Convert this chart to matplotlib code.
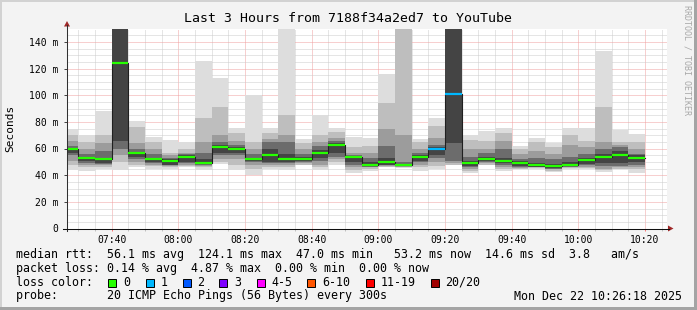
import numpy as np
import matplotlib.pyplot as plt
from matplotlib.patches import Rectangle, Polygon
from matplotlib.lines import Line2D

W, H = 697, 310
plt.rcParams['font.family'] = 'DejaVu Sans Mono'

# 5-minute slots (start time), 20 pings each
slot_start = ["07:25", "07:30", "07:35", "07:40", "07:45", "07:50", "07:55",
              "08:00", "08:05", "08:10", "08:15", "08:20", "08:25", "08:30",
              "08:35", "08:40", "08:45", "08:50", "08:55", "09:00", "09:05",
              "09:10", "09:15", "09:20", "09:25", "09:30", "09:35", "09:40",
              "09:45", "09:50", "09:55", "10:00", "10:05", "10:10", "10:15"]

# median rtt (ms) and lost pings per slot
median = [59.3, 53.2, 51.8, 124.1, 56.5, 51.8, 50.8, 53.8, 49.5, 60.8,
          59.8, 51.8, 55.5, 51.8, 52.5, 57.0, 62.6, 53.3, 48.0, 50.2,
          47.7, 54.0, 60.0, 101.0, 49.5, 52.3, 50.8, 49.5, 47.7, 47.0,
          48.0, 51.5, 53.3, 54.8, 53.2]
loss = [0, 0, 0, 0, 0, 0, 0, 0, 0, 0, 0, 0, 0, 0, 0, 0, 0, 0, 0, 0,
        0, 0, 1, 1, 0, 0, 0, 0, 0, 0, 0, 0, 0, 0, 0]

# smoke: lower / upper edge of each shade band (outermost first), ms
lo1 = [44, 43.5, 45, 44, 46.5, 45, 45, 46, 44, 48.5, 44, 40, 45, 44, 47.5, 44, 47.5, 42,
       43.5, 46, 45.5, 43.2, 45, 47.5, 41.5, 47.5, 43.5, 44.5, 45, 42.7, 45, 45, 42.7, 44.5, 41.5]
hi1 = [75, 70, 88.5, 200, 81, 69, 66.5, 65, 125.5, 113, 75.5, 100.5, 75.5, 200, 67, 85.5, 75.5, 69,
       68, 116, 200, 67.5, 83, 200, 70.5, 73, 75.5, 62, 68, 64, 75.5, 75.5, 133.5, 74, 71]
lo2 = [48, 46, 46.5, 50, 48, 47, 46, 47, 46, 50, 48, 45, 46.5, 46, 48, 46, 50, 44,
       45, 46.5, 46, 46, 47, 48, 43, 48, 45, 45, 45.5, 43.5, 45.5, 45.5, 44, 45, 45]
hi2 = [70, 65, 70, 200, 76.5, 65, 57, 60, 83, 91.5, 72, 65, 72, 85, 64, 70, 72.5, 61,
       62, 94, 200, 65, 77, 200, 66.5, 65.5, 71.5, 59.5, 65, 61, 70, 66, 91, 65, 65]
lo3 = [51, 48, 47.5, 55, 50, 48, 47, 48, 47, 52, 52, 48, 48, 47.5, 49, 48, 52, 46,
       46, 47, 46.5, 48, 50, 49, 44.5, 49, 46.5, 45.5, 46, 44.5, 46, 46.5, 45, 46, 46]
hi3 = [66, 60, 64, 200, 64, 60, 55, 57, 65, 70, 66, 60, 67, 70, 60, 65, 68, 57,
       57, 75, 70, 60, 68, 200, 60, 60, 66, 56, 58, 56, 63, 61, 65, 63, 60]
lo4 = [55, 49, 48.5, 60, 52, 49, 47.5, 49, 48, 55, 55, 50, 49, 49, 50, 51, 54, 48,
       46.5, 47.5, 47, 50, 53, 50.5, 46, 50, 48, 46, 46.2, 45, 46.5, 48, 47, 47, 48]
hi4 = [62, 56, 58, 200, 60, 56, 53, 56, 57, 65, 63, 56, 65, 65, 56, 62, 66, 55,
       53, 62, 50, 57, 63, 200, 54, 57, 60, 52, 53, 52, 54, 56, 60, 61, 56]
lo5 = [57, 51, 49, 66, 54, 50, 48, 50, 48.5, 57, 57, 50.5, 50, 50, 50.5, 53, 57, 50,
       47, 48, 47.5, 51, 55, 64, 47, 51, 49, 47, 46.5, 45.5, 47, 48.5, 49, 49, 50]
hi5 = [60.5, 54, 53, 200, 57.5, 53, 52, 55, 52, 63, 61, 53, 60, 56, 54, 59, 64, 54,
       50, 53, 48.5, 55.5, 61, 200, 51, 54, 53, 51, 49, 48.5, 50, 53, 56, 58, 55]

shades = ["#dddddd", "#bebebe", "#9c9c9c", "#6c6c6c", "#444444"]
loss_colors = {0: "#26ff00", 1: "#00b8ff"}

t = np.array([int(s[:2]) * 60 + int(s[3:]) - 420 for s in slot_start], dtype=float)

fig = plt.figure(figsize=(W / 100, H / 100), dpi=100, facecolor="#f3f3f3")
ax = fig.add_axes([67 / W, (H - 228.5) / H, 600 / W, 200 / H])
ax.set_facecolor("white")
ax.set_xlim(26.6, 206.6)
ax.set_ylim(0, 150)

for lo, hi, c in zip([lo1, lo2, lo3, lo4, lo5], [hi1, hi2, hi3, hi4, hi5], shades):
    lo = np.array(lo)
    hi = np.array(hi)
    ax.bar(t, hi - lo, bottom=lo, width=5, align="edge", color=c, linewidth=0, zorder=2)

# median line: dark step with loss-coloured segments
ax.step(np.append(t, t[-1] + 5), np.append(median, median[-1]), where="post",
        color="#202020", lw=0.8, zorder=3)
ax.hlines(median, t, t + 5, colors=[loss_colors[l] for l in loss], lw=1.6, zorder=4)

# grid
ax.set_xticks(np.arange(40, 206, 20))
ax.set_xticks(np.arange(30, 206, 5), minor=True)
ax.set_yticks(np.arange(0, 141, 20))
ax.set_yticks(np.arange(5, 150, 5), minor=True)
ax.set_xticklabels(["%02d:%02d" % ((420 + m) // 60, (420 + m) % 60) for m in np.arange(40, 206, 20)])
ax.set_yticklabels(["0"] + ["%d m" % v for v in range(20, 141, 20)])
ax.grid(which="minor", color="#cccccc", lw=0.72, ls=(0, (1, 1)))
ax.grid(which="major", color="#f0a0a0", lw=0.72, ls=(0, (1, 1)))
ax.set_axisbelow(True)
ax.tick_params(axis="x", which="major", length=1.5, width=0.7, color="#ff7070", pad=3.2, labelsize=7)
ax.tick_params(axis="x", which="minor", length=1.5, width=0.7, color="#c0c0c0")
ax.tick_params(axis="y", which="major", length=2.5, width=0.7, color="#404040", pad=3.8, labelsize=7)
ax.tick_params(axis="y", which="minor", length=0)
for s in ax.spines.values():
    s.set_visible(False)


def fx(px):
    return px / W


def fy(py):
    return 1 - py / H


# axes with arrows
fig.add_artist(Line2D([fx(67), fx(67)], [fy(231), fy(25)], color="#303030", lw=0.75))
fig.add_artist(Line2D([fx(63), fx(669)], [fy(228.5), fy(228.5)], color="#101010", lw=0.75))
fig.add_artist(Polygon([(fx(64), fy(26.5)), (fx(70), fy(26.5)), (fx(67), fy(21))],
                       closed=True, color="#a02828", lw=0))
fig.add_artist(Polygon([(fx(668), fy(225.5)), (fx(668), fy(231.5)), (fx(673.5), fy(228.5))],
                       closed=True, color="#a02828", lw=0))

# frame
fig.add_artist(Rectangle((0, fy(2)), 1, 2 / H, color="#d2d2d2", lw=0))
fig.add_artist(Rectangle((0, 0), 2 / W, 1, color="#d2d2d2", lw=0))
fig.add_artist(Rectangle((fx(694), 0), 3 / W, 1, color="#a4a4a4", lw=0))
fig.add_artist(Rectangle((0, 0), 1, 3 / H, color="#a4a4a4", lw=0))

fig.text(fx(348), fy(19), "Last 3 Hours from 7188f34a2ed7 to YouTube",
         ha="center", va="center", fontsize=9.5)
fig.text(fx(10.5), fy(128.5), "Seconds", rotation=90, ha="center", va="center", fontsize=8)
fig.text(fx(687.5), fy(5), "RRDTOOL / TOBI OETIKER", rotation=270, ha="center", va="top",
         fontsize=6, color="#a8a8a8")

fs = 8.4
fig.text(fx(16), fy(254.3), "median rtt:  56.1 ms avg  124.1 ms max  47.0 ms min   53.2 ms now  14.6 ms sd  3.8   am/s",
         ha="left", va="center", fontsize=fs)
fig.text(fx(16), fy(268.3), "packet loss: 0.14 % avg  4.87 % max  0.00 % min  0.00 % now",
         ha="left", va="center", fontsize=fs)
fig.text(fx(16), fy(282.3), "loss color:", ha="left", va="center", fontsize=fs)
fig.text(fx(16), fy(296), "probe:       20 ICMP Echo Pings (56 Bytes) every 300s",
         ha="left", va="center", fontsize=fs)
fig.text(fx(681.5), fy(296), "Mon Dec 22 10:26:18 2025", ha="right", va="center", fontsize=fs)

legend_labels = ["0", "1", "2", "3", "4-5", "6-10", "11-19", "20/20"]
legend_colors = ["#26ff00", "#00b8ff", "#0059ff", "#7e00ff", "#ff00ff", "#ff5500", "#ff0000", "#a10000"]
legend_x = [108.3, 145.7, 182.7, 219.3, 256.7, 307.3, 365.7, 430.7]
for lab, col, bx in zip(legend_labels, legend_colors, legend_x):
    fig.add_artist(Rectangle((fx(bx), fy(286.5)), 8 / W, 8 / H, facecolor=col,
                             edgecolor="black", lw=0.7))
    fig.text(fx(bx + 14.5), fy(282.3), lab, ha="left", va="center", fontsize=fs)

fig.savefig("out.png", dpi=100, facecolor=fig.get_facecolor())
